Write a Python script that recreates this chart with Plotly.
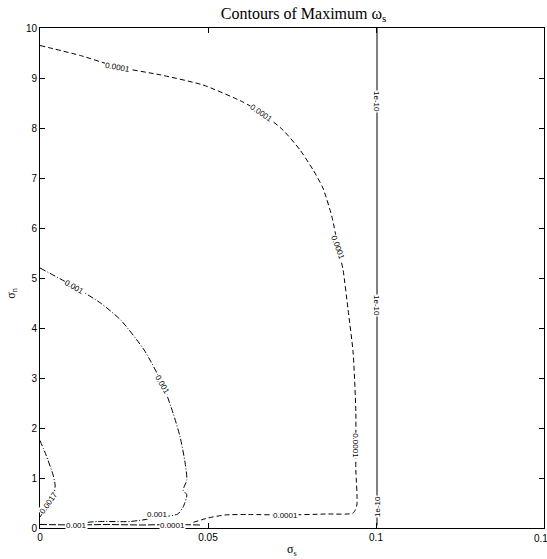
import plotly.graph_objects as go

# Contour levels of maximum omega_s, traced as polylines in (sigma_s, sigma_n)
lvl_1e10_x = [0.1003, 0.1003, 0.1003, 0.1003]
lvl_1e10_y = [10.0, 7.0, 3.0, 0.05]

lvl_1e4_x = [0.0, 0.0120, 0.0232, 0.0360, 0.0485, 0.0604, 0.0660, 0.0723, 0.0774,
             0.0813, 0.0842, 0.0869, 0.0887, 0.0902, 0.0917, 0.0932, 0.0940,
             0.0940, 0.0940, 0.0943, 0.0932, 0.0850, 0.0732, 0.0620, 0.0550,
             0.0500, 0.0450]
lvl_1e4_y = [9.65, 9.45, 9.22, 9.06, 8.86, 8.52, 8.30, 7.96, 7.56,
             7.16, 6.80, 6.22, 5.62, 5.16, 4.36, 3.50, 2.32,
             1.64, 1.16, 0.46, 0.30, 0.28, 0.26, 0.27, 0.26,
             0.20, 0.10]

lvl_1e3_x = [0.0, 0.0104, 0.0180, 0.0240, 0.0310, 0.0366, 0.0396, 0.0417, 0.0432,
             0.0437, 0.0426, 0.0437, 0.0426, 0.0410, 0.0363, 0.0268, 0.0173,
             0.0120]
lvl_1e3_y = [5.20, 4.82, 4.50, 4.16, 3.56, 2.86, 2.30, 1.82, 1.30,
             0.96, 0.76, 0.66, 0.42, 0.28, 0.22, 0.13, 0.13,
             0.10]

lvl_17e4_x = [0.0, 0.0018, 0.0039, 0.0045, 0.0042, 0.0024, 0.0008, 0.0]
lvl_17e4_y = [1.75, 1.46, 1.06, 0.86, 0.70, 0.50, 0.30, 0.22]

# low band of crowded contours just above sigma_n = 0
lvl_low_x = [0.0, 0.0100, 0.0200, 0.0300, 0.0400, 0.0480]
lvl_low_y = [0.07, 0.06, 0.07, 0.06, 0.07, 0.06]

# inline contour labels: text, x, y, angle
lab_text = ["0.0001", "0.0001", "0.0001", "0.0001", "0.0001",
            "1e-10", "1e-10", "1e-10",
            "0.001", "0.001", "0.001",
            "0.0017",
            "0.001", "0.0001"]
lab_x = [0.0232, 0.0660, 0.0887, 0.0940, 0.0732,
         0.1003, 0.1003, 0.1003,
         0.0104, 0.0366, 0.0350,
         0.0024,
         0.0110, 0.0395]
lab_y = [9.22, 8.30, 5.62, 1.64, 0.26,
         8.54, 4.46, 0.42,
         4.82, 2.86, 0.27,
         0.50,
         0.06, 0.05]
lab_ang = [10, 35, 70, 90, 0,
           90, 90, -90,
           30, 60, 0,
           -55,
           0, 0]

x_ticks = [0, 0.05, 0.1]
x_tick_text = ["0", "0.05", "0.1"]
x_edge_tick = 0.15
x_edge_text = "0.15"
y_ticks = list(range(0, 11))

fig = go.Figure()

line_sets = [
    (lvl_1e10_x, lvl_1e10_y, "solid", "linear"),
    (lvl_1e4_x, lvl_1e4_y, "5px,3px", "spline"),
    (lvl_1e3_x, lvl_1e3_y, "6px,2px,1px,2px", "spline"),
    (lvl_17e4_x, lvl_17e4_y, "6px,2px,1px,2px", "spline"),
    (lvl_low_x, lvl_low_y, "7px,2px", "linear"),
]
for xs, ys, dash, shape in line_sets:
    fig.add_trace(go.Scatter(x=xs, y=ys, mode="lines",
                             line=dict(color="black", width=1, dash=dash,
                                       shape=shape, smoothing=0.6),
                             hoverinfo="skip", showlegend=False))

for t, x, y, a in zip(lab_text, lab_x, lab_y, lab_ang):
    fig.add_annotation(x=x, y=y, xref="x", yref="y", text=t, showarrow=False,
                       textangle=a, bgcolor="white", borderpad=0,
                       font=dict(family="Liberation Sans, Arial", size=8, color="black"))

tick_font = dict(family="Liberation Sans, Arial", size=10, color="black")

# last x tick label sits on the right edge of the axes
fig.add_annotation(x=x_edge_tick, y=0, xref="x", yref="y", text=x_edge_text,
                   showarrow=False, yanchor="top", yshift=-3, font=tick_font)

# axis titles
fig.add_annotation(x=0.5, y=-0.044, xref="paper", yref="paper", text="σ<sub>s</sub>",
                   showarrow=False, yanchor="middle",
                   font=dict(family="Liberation Serif, Times New Roman", size=12, color="black"))
fig.add_annotation(x=-0.056, y=0.47, xref="paper", yref="paper", text="σ<sub>n</sub>",
                   showarrow=False, textangle=-90, xanchor="center",
                   font=dict(family="Liberation Serif, Times New Roman", size=12, color="black"))

axis_common = dict(showgrid=False, zeroline=False, showline=True, linecolor="black",
                   linewidth=1, mirror="ticks", ticks="inside", ticklen=5,
                   tickcolor="black", automargin=False, tickfont=tick_font)

fig.update_layout(
    width=547, height=559, autosize=False,
    margin=dict(l=40, r=3, t=28, b=31),
    paper_bgcolor="white", plot_bgcolor="white",
    title=dict(text="Contours of Maximum ω<sub>s</sub>", x=0.555, xanchor="center",
               y=1 - 13 / 559, yanchor="middle",
               font=dict(family="Liberation Serif, Times New Roman", size=16, color="black")),
    xaxis=dict(range=[0, 0.15], tickvals=x_ticks, ticktext=x_tick_text, **axis_common),
    yaxis=dict(range=[0, 10], tickvals=y_ticks, **axis_common),
)

fig.write_html("out.html")
